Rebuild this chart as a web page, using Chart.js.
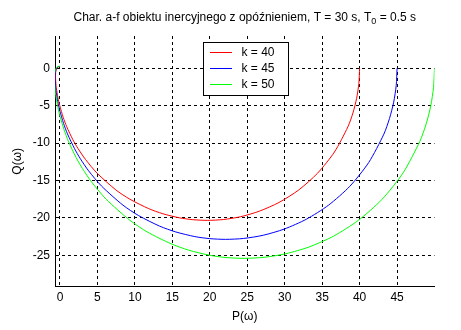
<!DOCTYPE html>
<html>
<head>
<meta charset="utf-8">
<script src="https://cdn.jsdelivr.net/npm/chart.js@4/dist/chart.umd.min.js"></script>
<style>
  html, body { margin: 0; padding: 0; background: #fff; overflow: hidden; }
  #wrap { width: 461px; height: 330px; }
</style>
</head>
<body>
<div id="wrap"><canvas id="c" width="461" height="330"></canvas></div>
<script>
// Nyquist (amplitude-phase) curves of a first-order lag with dead time
const seriesLabels = ['k = 40', 'k = 45', 'k = 50'];
const seriesColors = ['#ff0000', '#0000ff', '#00ff00'];

// P(ω) (real part) and Q(ω) (imaginary part), from ω = 0 towards high frequencies
const pK40 = [40, 39.90, 39.60, 39.11, 38.44, 36.64, 34.39, 31.87, 29.23, 26.62, 24.13, 21.80, 19.66, 17.73, 16.00, 13.74, 11.84, 9.34, 7.46, 4.94, 3.40, 2.40, 1.72, 0.89, 0.43, -0.04, -0.27, -0.49, -0.56, -0.60, -0.58, -0.48, -0.40, -0.30, -0.16, 0.00];
const qK40 = [0, -2.03, -4.03, -5.97, -7.82, -11.19, -14.02, -16.27, -17.94, -19.10, -19.84, -20.22, -20.33, -20.24, -20.00, -19.45, -18.76, -17.51, -16.26, -14.01, -12.18, -10.72, -9.55, -7.79, -6.56, -4.96, -3.97, -2.62, -1.92, -1.19, -0.55, -0.12, 0.03, 0.14, 0.21, 0.21];

const pK45 = [45, 44.89, 44.55, 43.99, 43.24, 41.22, 38.69, 35.85, 32.89, 29.95, 27.14, 24.52, 22.12, 19.95, 18.00, 15.46, 13.32, 10.51, 8.40, 5.56, 3.82, 2.70, 1.94, 1.00, 0.48, -0.05, -0.30, -0.55, -0.63, -0.67, -0.65, -0.54, -0.45, -0.34, -0.18, 0.00];
const qK45 = [0, -2.28, -4.53, -6.71, -8.80, -12.59, -15.78, -18.30, -20.18, -21.49, -22.32, -22.75, -22.87, -22.77, -22.50, -21.88, -21.11, -19.70, -18.29, -15.76, -13.71, -12.06, -10.74, -8.77, -7.38, -5.58, -4.47, -2.94, -2.16, -1.34, -0.62, -0.14, 0.04, 0.15, 0.24, 0.24];

const pK50 = [50, 49.87, 49.50, 48.88, 48.04, 45.80, 42.99, 39.83, 36.54, 33.28, 30.16, 27.25, 24.58, 22.16, 20.00, 17.17, 14.80, 11.67, 9.33, 6.17, 4.24, 3.00, 2.15, 1.12, 0.54, -0.06, -0.33, -0.61, -0.70, -0.75, -0.73, -0.61, -0.50, -0.38, -0.20, 0.01];
const qK50 = [0, -2.54, -5.03, -7.46, -9.78, -13.99, -17.53, -20.33, -22.43, -23.88, -24.79, -25.27, -25.41, -25.30, -25.00, -24.31, -23.45, -21.89, -20.32, -17.51, -15.23, -13.41, -11.93, -9.74, -8.20, -6.20, -4.96, -3.27, -2.40, -1.49, -0.69, -0.15, 0.04, 0.17, 0.27, 0.26];

const xTicks = [0, 5, 10, 15, 20, 25, 30, 35, 40, 45];
const yTicks = [-25, -20, -15, -10, -5, 0];

const FONT = 'Arial, "Liberation Sans", Helvetica, sans-serif';

function toPoints(ps, qs) {
  return ps.map((p, i) => ({ x: p, y: qs[i] }));
}

const pSeries = [pK40, pK45, pK50];
const qSeries = [qK40, qK45, qK50];

const datasets = seriesLabels.map((label, i) => ({
  label: label,
  data: toPoints(pSeries[i], qSeries[i]),
  borderColor: seriesColors[i],
  backgroundColor: seriesColors[i],
  borderWidth: 1,
  showLine: true,
  pointRadius: 0,
  tension: 0.25,
  order: seriesLabels.length - i
}));

// Title with a subscripted T0
const titlePlugin = {
  id: 'plotTitle',
  afterDraw(chart) {
    const ctx = chart.ctx;
    const parts = [
      { t: 'Char. a-f obiektu inercyjnego z opóźnieniem, T = 30 s, T', size: 12, dy: 0 },
      { t: '0', size: 9, dy: 3 },
      { t: ' = 0.5 s', size: 12, dy: 0 }
    ];
    ctx.save();
    ctx.fillStyle = '#000';
    ctx.textBaseline = 'alphabetic';
    let total = 0;
    parts.forEach(p => { ctx.font = p.size + 'px ' + FONT; p.w = ctx.measureText(p.t).width; total += p.w; });
    const ca = chart.chartArea;
    let x = (ca.left + ca.right) / 2 - total / 2;
    const base = 20.5;
    parts.forEach(p => {
      ctx.font = p.size + 'px ' + FONT;
      ctx.fillText(p.t, x, base + p.dy);
      x += p.w;
    });
    ctx.restore();
  }
};

// Boxed legend inside the plot area
const legendPlugin = {
  id: 'boxLegend',
  afterDraw(chart) {
    const ctx = chart.ctx;
    const ds = chart.data.datasets;
    const bx = 203.5, by = 42.5, bw = 85, bh = 53;
    ctx.save();
    ctx.fillStyle = '#fff';
    ctx.fillRect(bx, by, bw, bh);
    ctx.strokeStyle = '#000';
    ctx.lineWidth = 1;
    ctx.strokeRect(bx, by, bw, bh);
    ctx.font = '12px ' + FONT;
    ctx.textBaseline = 'middle';
    ds.forEach((d, i) => {
      const y = 52.5 + i * 16;
      ctx.strokeStyle = d.borderColor;
      ctx.beginPath();
      ctx.moveTo(210, y);
      ctx.lineTo(232, y);
      ctx.stroke();
      ctx.fillStyle = '#000';
      ctx.fillText(d.label, 241.5, y + 0.5);
    });
    ctx.restore();
  }
};

new Chart(document.getElementById('c'), {
  type: 'scatter',
  data: { datasets: datasets },
  options: {
    responsive: false,
    animation: false,
    devicePixelRatio: 1,
    layout: { padding: { left: 0, right: 26.5, top: 36, bottom: 0 } },
    plugins: { legend: { display: false }, tooltip: { enabled: false }, title: { display: false } },
    scales: {
      x: {
        type: 'linear',
        min: -0.667,
        max: 50,
        afterBuildTicks: s => { s.ticks = xTicks.map(v => ({ value: v })); },
        afterFit: s => { s.height = 43.3; },
        grid: { color: '#000', lineWidth: 1, drawTicks: false },
        border: { display: true, color: '#000', width: 1, dash: [3, 3] },
        ticks: { color: '#000', font: { size: 12, family: FONT }, padding: 4, autoSkip: false, maxRotation: 0 },
        title: { display: true, text: 'P(ω)', color: '#000', font: { size: 12, family: FONT }, padding: { top: 0, bottom: 6 } }
      },
      y: {
        type: 'linear',
        min: -29.2,
        max: 4.32,
        afterBuildTicks: s => { s.ticks = yTicks.map(v => ({ value: v })); },
        afterFit: s => { s.width = 55; },
        grid: { color: '#000', lineWidth: 1, drawTicks: false },
        border: { display: true, color: '#000', width: 1, dash: [3, 3] },
        ticks: { color: '#000', font: { size: 12, family: FONT }, padding: 5, autoSkip: false },
        title: { display: true, text: 'Q(ω)', color: '#000', font: { size: 12, family: FONT }, padding: { top: 10, bottom: 0 } }
      }
    }
  },
  plugins: [titlePlugin, legendPlugin]
});
</script>
</body>
</html>
